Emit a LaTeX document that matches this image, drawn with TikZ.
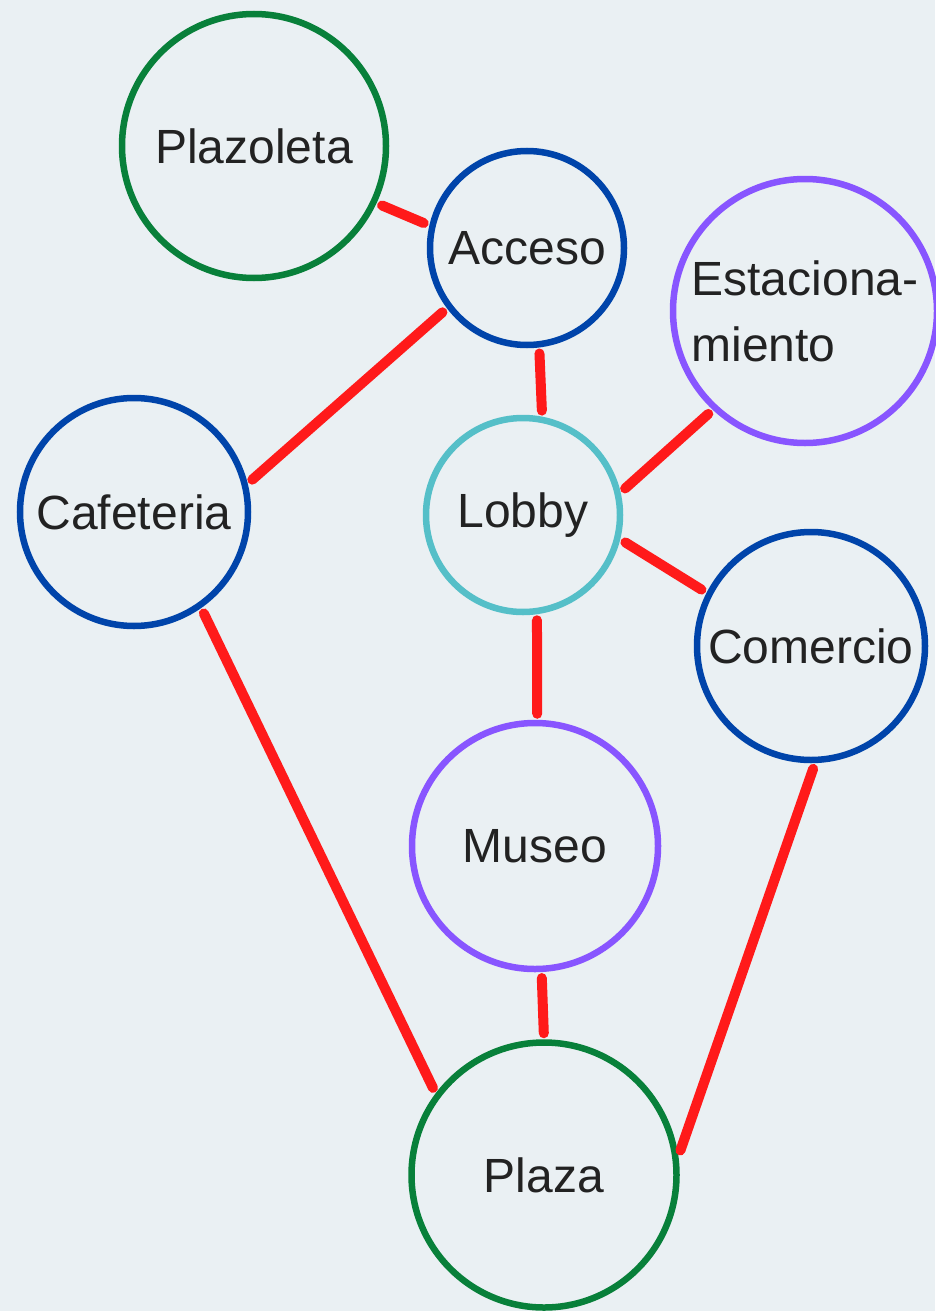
\documentclass[tikz,border=0pt]{standalone}
\usepackage{fontspec}
\setmainfont{Liberation Sans}
\usepackage{xcolor}
\usetikzlibrary{arrows.meta,positioning}

\definecolor{bgcol}{HTML}{EAF0F3}
\definecolor{greencol}{HTML}{08803A}
\definecolor{bluecol}{HTML}{0044AA}
\definecolor{purplecol}{HTML}{8855FF}
\definecolor{tealcol}{HTML}{55BFC8}
\definecolor{redcol}{HTML}{FF1A1A}
\definecolor{textcol}{HTML}{222222}

\begin{document}
\begin{tikzpicture}[
  x=1pt, y=-1pt,
  every node/.style={font=\fontsize{48}{66}\selectfont, text=textcol},
  place/.style={circle, draw=#1, line width=6.5pt, inner sep=0pt, align=left},
  link/.style={redcol, line width=10pt, line cap=round, shorten <=6pt, shorten >=6pt}
]
  \fill[bgcol] (0,0) rectangle (935,1311);
  \useasboundingbox (0,0) rectangle (935,1311);

  \node[place=greencol, minimum size=264pt] (plazoleta) at (254,146) {Plazoleta};
  \node[place=bluecol, minimum size=194pt] (acceso) at (527,248) {Acceso};
  \node[place=purplecol, minimum size=264pt] (estac) at (805,311) {Estaciona-\\miento};
  \node[place=bluecol, minimum size=228pt] (cafeteria) at (134,512) {Cafeteria};
  \node[place=tealcol, minimum size=194pt] (lobby) at (523,515) {Lobby};
  \node[place=bluecol, minimum size=228pt] (comercio) at (811,646) {Comercio};
  \node[place=purplecol, minimum size=246pt] (museo) at (535,846) {Museo};
  \node[place=greencol, minimum size=265pt] (plaza) at (544,1175) {Plaza};

  \draw[link] (plazoleta.-25) -- (acceso.167);
  \draw[link] (acceso.-143) -- (cafeteria.14);
  \draw[link] (acceso.-83) -- (lobby.79);
  \draw[link] (lobby.13) -- (estac.-133);
  \draw[link] (lobby.-14) -- (comercio.153);
  \draw[link] (lobby.-82) -- (museo.89);
  \draw[link] (museo.-87) -- (plaza.90);
  \draw[link] (cafeteria.-55) -- (plaza.143);
  \draw[link] (comercio.-88) -- (plaza.8);
\end{tikzpicture}
\end{document}
